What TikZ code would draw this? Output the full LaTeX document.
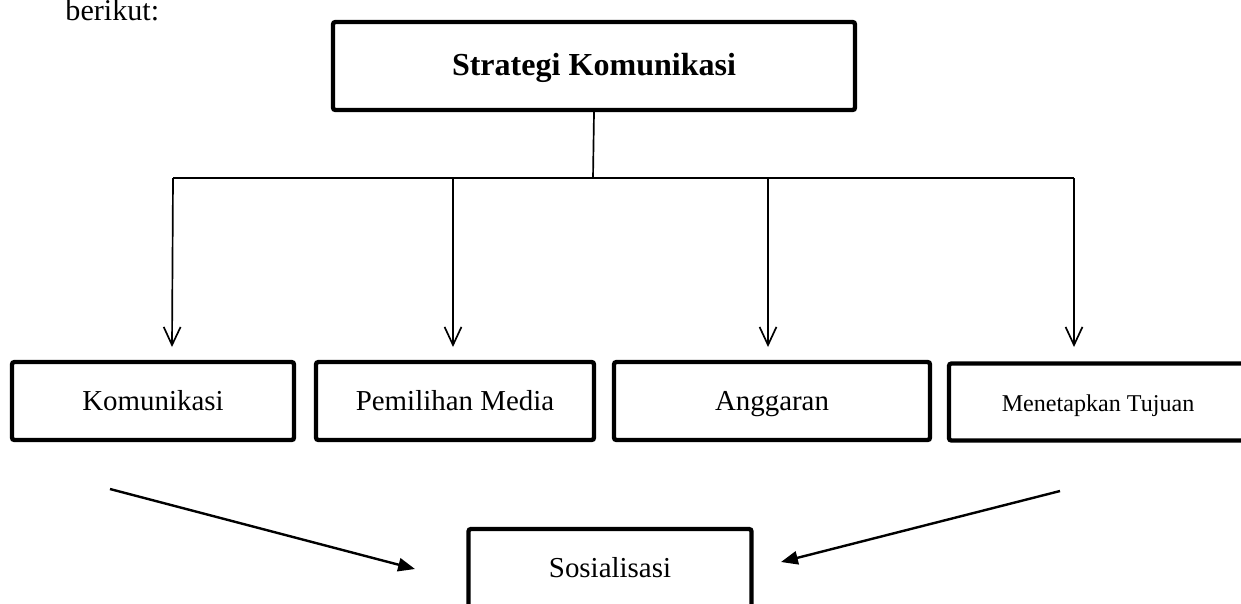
\documentclass[tikz,border=0pt]{standalone}
\usepackage{fontspec}
\setmainfont{Liberation Serif}
\usepackage{tikz}
\usetikzlibrary{positioning,arrows.meta,calc}
\tikzset{
  box/.style   = {draw=black, fill=white, line width=1.8pt, rounded corners=1pt,
                  inner sep=0pt, text height=1em, text depth=0.2em,
                  font=\fontsize{12}{14}\selectfont},
  head/.style  = {box, font=\fontsize{13.3}{16}\selectfont\bfseries},
  link/.style  = {draw=black, line width=0.7pt},
  drop/.style  = {link, -{Straight Barb[length=7.5pt,width=7pt,line width=0.7pt]}},
  feed/.style  = {draw=black, line width=1pt, -{Triangle[length=7pt,width=5.5pt]}},
}

\begin{document}
\begin{tikzpicture}[x=0.415pt,y=-0.415pt]
      \useasboundingbox (0,0) rectangle (1241,603);
      \node[anchor=base west,inner sep=0pt,font=\fontsize{12.5}{14}\selectfont] (intro) at (65,20) {berikut:};
      \node[head,minimum width=522*0.415pt,minimum height=88*0.415pt] (strat) at (594,66) {Strategi Komunikasi};
      \coordinate (mid) at (593,178);
      \draw[link] (strat.south) -- (mid);
      \draw[link] (173,178) coordinate (j1) -- (1074,178) coordinate (j4);
      \coordinate (j2) at (453,178);
      \coordinate (j3) at (768,178);
      \foreach \n/\x/\w/\c/\t in {k1/153/282/172/Komunikasi,k2/455/278/453/Pemilihan Media,k3/772/316/768/Anggaran}{
        \node[box,minimum width=\w*0.415pt,minimum height=78*0.415pt] (\n) at (\x,401) {\t};
        \coordinate (t\n) at (\c,347);}
      \node[box,minimum width=298*0.415pt,minimum height=77*0.415pt,font=\fontsize{10}{12}\selectfont] (k4) at (1098,402) {Menetapkan Tujuan};
      \coordinate (tk4) at (1074,347);
      \draw[drop] (j1) -- (tk1);
      \draw[drop] (j2) -- (tk2);
      \draw[drop] (j3) -- (tk3);
      \draw[drop] (j4) -- (tk4);
      \node[box,minimum width=283*0.415pt,minimum height=78*0.415pt] (sos) at (610,568) {Sosialisasi};
      \coordinate (ls) at (110,489);
      \coordinate (le) at (415,569);
      \coordinate (rs) at (1060,491);
      \coordinate (re) at (781,562);
      \draw[feed] (ls) -- (le);
      \draw[feed] (rs) -- (re);
    \end{tikzpicture}
\end{document}
